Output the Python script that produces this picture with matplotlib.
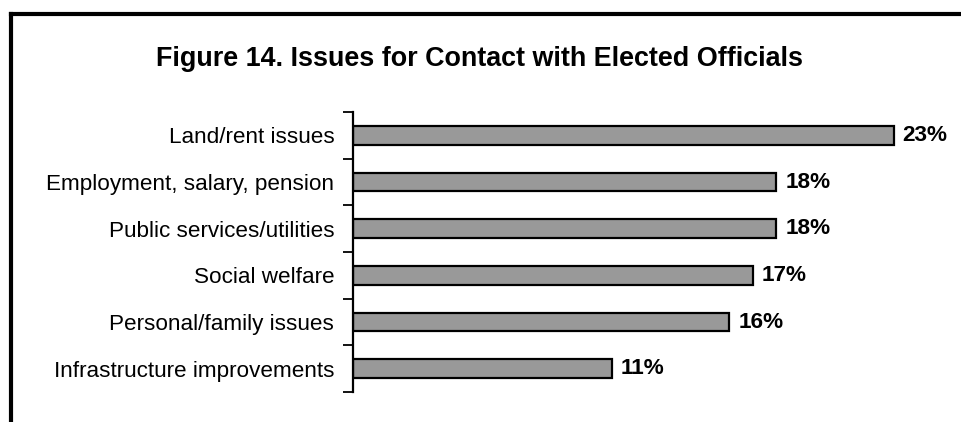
import matplotlib
matplotlib.use("Agg")
import matplotlib.pyplot as plt
from matplotlib.lines import Line2D
import numpy as np

# Konu başlıkları ve yüzdeler (yukarıdan aşağıya)
categories = ["Land/rent issues", "Employment, salary, pension",
              "Public services/utilities", "Social welfare",
              "Personal/family issues", "Infrastructure improvements"]
values = [23, 18, 18, 17, 16, 11]
labels = ["23%", "18%", "18%", "17%", "16%", "11%"]

plt.rcParams["font.family"] = ["Liberation Sans", "DejaVu Sans"]

fig = plt.figure(figsize=(9.62, 4.22), dpi=100)
W, H = 962, 422

# Eksen alanı piksel olarak
x0, x1 = 353.3, 940.8
y_top, y_bot = 112, 392
ax = fig.add_axes([x0 / W, (H - y_bot) / H, (x1 - x0) / W, (y_bot - y_top) / H])

pos = np.arange(len(categories))
ax.barh(pos, values, height=0.4, color="#999999", edgecolor="black", linewidth=1.6)
ax.set_ylim(len(categories) - 0.5, -0.5)
ax.set_xlim(0, 25)

for p, v, t in zip(pos, values, labels):
    ax.text(v + 0.38, p, t, va="center", ha="left", fontsize=16.2, fontweight="bold")

# Kategori sınırlarında dışa doğru çentikler
ax.set_yticks(np.arange(len(categories) + 1) - 0.5)
ax.set_yticklabels([])
ax.set_yticks(pos, minor=True)
ax.set_yticklabels(categories, minor=True, fontsize=16.2)
ax.tick_params(axis="y", which="major", direction="out", length=7, width=1.3)
ax.tick_params(axis="y", which="minor", length=0, pad=13.7)
ax.set_xticks([])
for s in ["top", "right", "bottom"]:
    ax.spines[s].set_visible(False)
ax.spines["left"].set_linewidth(1.6)

fig.text(480 / W, (H - 59) / H, "Figure 14. Issues for Contact with Elected Officials",
         ha="center", va="center", fontsize=19.4, fontweight="bold")

# Çerçeve: sol ve üst kenar
fig.add_artist(Line2D([11 / W, 11 / W], [0, (H - 14) / H], color="black", linewidth=3))
fig.add_artist(Line2D([11 / W, 1], [(H - 14) / H, (H - 14) / H], color="black", linewidth=3))

fig.savefig("out.png", dpi=100)
